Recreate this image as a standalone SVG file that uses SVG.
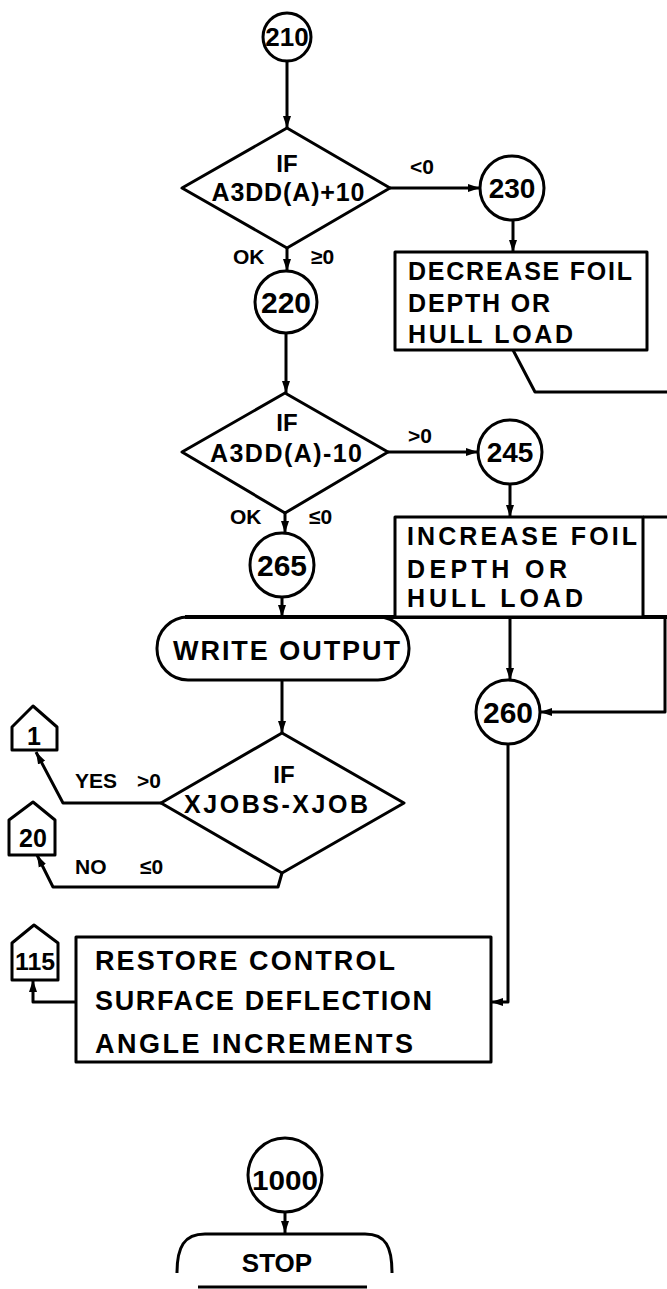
<svg xmlns="http://www.w3.org/2000/svg" width="667" height="1289" viewBox="0 0 667 1289">
<style>
.ln{fill:none;stroke:#000;stroke-width:3;stroke-linejoin:round}
.sh{fill:#fff;stroke:#000;stroke-width:3;stroke-linejoin:round}
text{font-family:"Liberation Sans",Arial,sans-serif;font-weight:bold;fill:#000}
.c{text-anchor:middle}
.lb{font-size:21px}
.bx{font-size:25px}
</style>
<defs>
<marker id="ah" markerWidth="12" markerHeight="10" refX="12" refY="5" orient="auto" markerUnits="userSpaceOnUse"><path d="M0,1 L12,5 L0,9 Z" fill="#000"/></marker>
</defs>
<rect width="667" height="1289" fill="#fff"/>
<g id="connectors">
<path class="ln" d="M287,61 V128" marker-end="url(#ah)"/>
<path class="ln" d="M390,188 H480" marker-end="url(#ah)"/>
<path class="ln" d="M513,220 V252" marker-end="url(#ah)"/>
<path class="ln" d="M513,350 L535,392 H667"/>
<path class="ln" d="M287,248 V271" marker-end="url(#ah)"/>
<path class="ln" d="M286,333 V393" marker-end="url(#ah)"/>
<path class="ln" d="M388,452 H478" marker-end="url(#ah)"/>
<path class="ln" d="M510,484 V517" marker-end="url(#ah)"/>
<path class="ln" d="M285,513 V533" marker-end="url(#ah)"/>
<path class="ln" d="M282,597 V617" marker-end="url(#ah)"/>
<path class="ln" d="M282,680 V733" marker-end="url(#ah)"/>
<path class="ln" d="M161,803 H63 L36,752" marker-end="url(#ah)"/>
<path class="ln" d="M282,873 L278,887 H53 L37,855" marker-end="url(#ah)"/>
<path class="ln" d="M510,617 V680" marker-end="url(#ah)"/>
<path class="ln" d="M643,517 H667"/>
<path class="ln" d="M185,617 H667" style="stroke-width:4"/>
<path class="ln" d="M665,617 V712 H540" marker-end="url(#ah)"/>
<path class="ln" d="M508,744 V1002 H491" marker-end="url(#ah)"/>
<path class="ln" d="M76,1002 H33 V980" marker-end="url(#ah)"/>
<path class="ln" d="M285,1212 V1233" marker-end="url(#ah)"/>
<text class="lb" x="410" y="174">&lt;0</text>
<text class="lb" x="233" y="264" font-size="22">OK</text>
<text class="lb" x="311" y="264">≥0</text>
<text class="lb" x="408" y="443">&gt;0</text>
<text class="lb" x="230" y="524">OK</text>
<text class="lb" x="309" y="524">≤0</text>
<text class="lb" x="75" y="788">YES <tspan x="137">&gt;0</tspan></text>
<text class="lb" x="75" y="874">NO <tspan x="140">≤0</tspan></text>
</g>
<g id="n210"><circle class="sh" cx="287" cy="37" r="24"/><text class="c" x="287" y="46" font-size="26">210</text></g>
<g id="if1"><polygon class="sh" points="287,128 390,188 287,248 182,188"/><text class="c" x="287" y="172" font-size="24">IF</text><text class="c" x="288" y="201" font-size="25" textLength="153">A3DD(A)+10</text></g>
<g id="n230"><circle class="sh" cx="512" cy="188" r="32"/><text class="c" x="512" y="198" font-size="28">230</text></g>
<g id="dec"><rect class="sh" x="395" y="252" width="252" height="98"/><text class="bx" x="408" y="280" textLength="224" lengthAdjust="spacing">DECREASE FOIL</text><text class="bx" x="408" y="312" textLength="142" lengthAdjust="spacing">DEPTH OR</text><text class="bx" x="408" y="343" textLength="165" lengthAdjust="spacing">HULL LOAD</text></g>
<g id="n220"><circle class="sh" cx="286" cy="302" r="31"/><text class="c" x="286" y="313" font-size="30">220</text></g>
<g id="if2"><polygon class="sh" points="285,393 388,452 285,513 182,452"/><text class="c" x="287" y="431" font-size="24">IF</text><text class="c" x="286" y="462" font-size="25" textLength="152">A3DD(A)-10</text></g>
<g id="n245"><circle class="sh" cx="510" cy="452" r="32"/><text class="c" x="510" y="462" font-size="28">245</text></g>
<g id="inc"><rect class="sh" x="395" y="517" width="248" height="100"/><text class="bx" x="407" y="545" textLength="230" lengthAdjust="spacing">INCREASE FOIL</text><text class="bx" x="407" y="578" textLength="160" lengthAdjust="spacing">DEPTH OR</text><text class="bx" x="407" y="607" textLength="176" lengthAdjust="spacing">HULL LOAD</text></g>
<g id="n265"><circle class="sh" cx="282" cy="565" r="32"/><text class="c" x="282" y="576" font-size="30">265</text></g>
<g id="write"><rect class="sh" x="157" y="617" width="252" height="63" rx="31"/><path class="ln" d="M185,617 H395" style="stroke-width:4"/><text x="173" y="660" font-size="27" textLength="227" lengthAdjust="spacing">WRITE OUTPUT</text></g>
<g id="n260"><circle class="sh" cx="508" cy="712" r="32"/><text class="c" x="508" y="723" font-size="30">260</text></g>
<g id="if3"><polygon class="sh" points="282,733 404,803 282,873 161,803"/><text class="c" x="284" y="783" font-size="24">IF</text><text class="c" x="276" y="813" font-size="25" textLength="184" lengthAdjust="spacing">XJOBS-XJOB</text></g>
<g id="p1"><path class="sh" d="M12,727 L33,706 L57,727 V750 H12 Z"/><text class="c" x="34" y="745" font-size="25">1</text></g>
<g id="p20"><path class="sh" d="M9,820 L33,802 L55,820 V855 H9 Z"/><text class="c" x="33" y="847" font-size="25">20</text></g>
<g id="restore"><rect class="sh" x="76" y="937" width="415" height="125"/><text x="95" y="970" font-size="27" textLength="300" lengthAdjust="spacing">RESTORE CONTROL</text><text x="95" y="1010" font-size="27" textLength="337" lengthAdjust="spacing">SURFACE DEFLECTION</text><text x="95" y="1053" font-size="27" textLength="318" lengthAdjust="spacing">ANGLE INCREMENTS</text></g>
<g id="p115"><path class="sh" d="M12,943 L34,925 L58,943 V980 H12 Z"/><text class="c" x="35" y="970" font-size="24" textLength="40" lengthAdjust="spacingAndGlyphs">115</text></g>
<g id="n1000"><circle class="sh" cx="285" cy="1175" r="37"/><text class="c" x="285" y="1190" font-size="28" textLength="66" lengthAdjust="spacingAndGlyphs">1000</text></g>
<g id="stop"><path class="ln" d="M177,1273 C177,1247 184,1234 205,1234 H365 C386,1234 392,1247 392,1273"/><path class="ln" d="M198,1287 H367"/><text class="c" x="277" y="1272" font-size="26">STOP</text></g>
</svg>
